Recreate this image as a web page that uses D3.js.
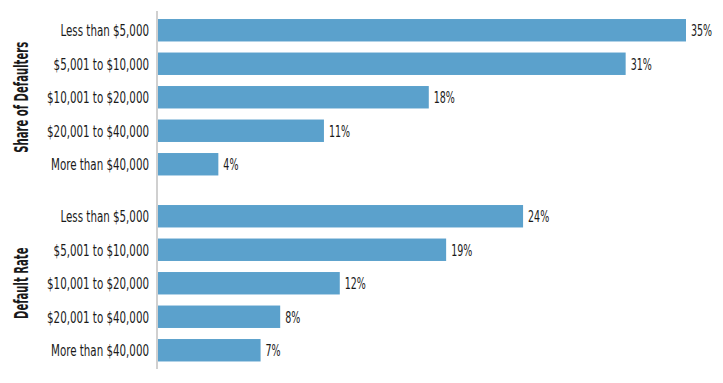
<!DOCTYPE html>
<html><head><meta charset="utf-8">
<script src="https://cdn.jsdelivr.net/npm/d3@7"></script>
<style>
body{margin:0;background:#fff;}
text{font-family:"DejaVu Sans Condensed","Liberation Sans Narrow",sans-serif;}
</style></head>
<body><svg id="c" width="723" height="383"></svg>
<script>
const categories = ["Less than $5,000","$5,001 to $10,000","$10,001 to $20,000","$20,001 to $40,000","More than $40,000"];
const shareOfDefaulters = [35.0, 31.0, 17.95, 11.0, 4.0];
const defaultRate = [24.2, 19.1, 12.05, 8.1, 6.8];
const groupTitles = ["Share of Defaulters","Default Rate"];

const svg = d3.select("#c");
const x = d3.scaleLinear().domain([0,35]).range([158,686]);
const groups = [
  {title: groupTitles[0], values: shareOfDefaulters, y0: 13.5},
  {title: groupTitles[1], values: defaultRate, y0: 199.5}
];
function condense(k){
  return sel => sel.each(function(){ const w=this.getComputedTextLength(); d3.select(this).attr("textLength", w*k).attr("lengthAdjust","spacingAndGlyphs"); });
}
groups.forEach(g=>{
  const y = d3.scaleBand().domain(categories).range([g.y0, g.y0+167.5]).paddingInner(0.33).paddingOuter(0.165);
  const gg = svg.append("g");
  gg.selectAll("rect").data(categories).join("rect")
    .attr("x", x(0)).attr("y", d=>y(d)).attr("height", y.bandwidth())
    .attr("width", (d,i)=>x(g.values[i])-x(0)).attr("fill","#5ba1cc");
  const ax = gg.append("g").attr("transform","translate(149,0)")
    .call(d3.axisLeft(y).tickSize(0).tickPadding(0));
  ax.select(".domain").remove();
  ax.selectAll("text").attr("font-size",16).attr("fill","#1a1a1a").attr("dy","0.36em")
    .style("font-family",'"DejaVu Sans Condensed",sans-serif').call(condense(0.715));
  gg.selectAll("text.val").data(categories).join("text").attr("class","val")
    .attr("x",(d,i)=>x(g.values[i])+5).attr("y", d=>y(d)+y.bandwidth()/2).attr("dy","0.36em")
    .attr("font-size",16).attr("fill","#1a1a1a")
    .text((d,i)=>Math.round(g.values[i])+"%").call(condense(0.66));
  const cy = y(categories[0]) + (y(categories[4])+y.bandwidth()-y(categories[0]))/2;
  gg.append("text").attr("transform",`translate(28,${cy}) rotate(-90) scale(0.56,1)`)
    .attr("text-anchor","middle").attr("font-size",20).attr("font-weight","bold")
    .attr("fill","#1a1a1a").text(g.title);
});
svg.append("line").attr("x1",157).attr("x2",157).attr("y1",11).attr("y2",369)
  .attr("stroke","#d0d0d0").attr("stroke-width",2);
</script></body></html>
